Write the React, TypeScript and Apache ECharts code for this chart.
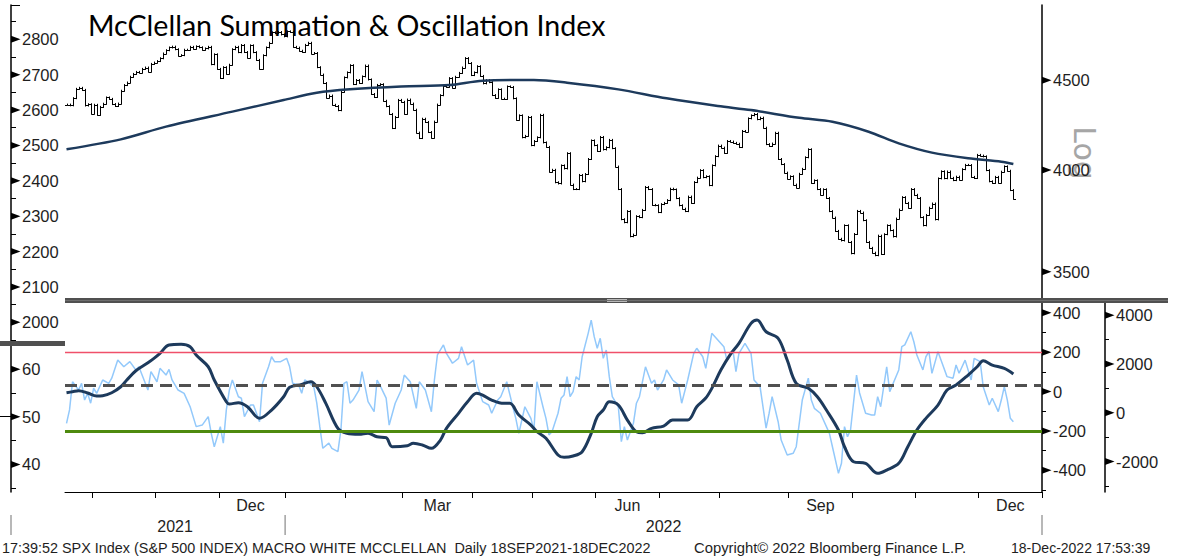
import React, { useEffect, useRef } from 'react';
import * as echarts from 'echarts';

// ---------- categories (trading days) ----------
const START_DAY = '2021-09-20';
const END_DAY = '2022-12-30';
const HOLIDAYS = ['2021-11-25', '2021-12-24', '2022-01-17', '2022-02-21', '2022-04-15', '2022-05-30', '2022-06-20', '2022-07-04', '2022-09-05', '2022-11-24', '2022-12-26'];

// ---------- SPX daily closes (Sep 20 2021 .. Dec 16 2022) ----------
const spxClose = [
  4358, 4354, 4395, 4449, 4455, 4443, 4353, 4360, 4307,
  4357, 4300, 4345, 4363, 4399, 4391, 4361, 4350, 4364, 4438, 4471, 4486, 4520, 4537, 4549, 4545, 4567, 4575, 4551, 4597, 4605,
  4614, 4631, 4660, 4680, 4697, 4702, 4686, 4647, 4650, 4683, 4683, 4701, 4689, 4704, 4698, 4683, 4691, 4701, 4595, 4655, 4567,
  4513, 4577, 4538, 4592, 4686, 4701, 4668, 4712, 4669, 4635, 4710, 4668, 4621, 4568, 4649, 4697, 4726, 4791, 4786, 4793, 4778, 4766,
  4797, 4794, 4701, 4696, 4677, 4670, 4713, 4726, 4660, 4663, 4577, 4533, 4483, 4398, 4410, 4357, 4350, 4326, 4432, 4516,
  4546, 4589, 4477, 4501, 4484, 4522, 4587, 4504, 4419, 4402, 4472, 4476, 4380, 4349, 4305, 4226, 4288, 4385, 4374,
  4306, 4387, 4364, 4329, 4201, 4171, 4278, 4260, 4204, 4173, 4262, 4358, 4412, 4463, 4461, 4512, 4456, 4520, 4543, 4575, 4632, 4602, 4530,
  4546, 4583, 4525, 4481, 4500, 4488, 4413, 4397, 4446, 4392, 4391, 4463, 4460, 4394, 4272, 4297, 4175, 4183, 4288, 4132,
  4155, 4175, 4300, 4147, 4123, 3991, 4001, 3936, 3930, 4024, 4008, 4089, 3924, 3901, 3901, 3974, 3941, 3979, 4058, 4158, 4132,
  4101, 4177, 4109, 4121, 4161, 4116, 4018, 3901, 3750, 3735, 3790, 3667, 3675, 3765, 3760, 3796, 3912, 3901, 3821, 3819, 3785,
  3825, 3831, 3845, 3903, 3899, 3855, 3819, 3802, 3790, 3863, 3831, 3937, 3960, 3999, 3962, 3967, 3921, 4024, 4073, 4130,
  4119, 4091, 4155, 4152, 4145, 4140, 4122, 4210, 4207, 4280, 4297, 4305, 4275, 4284, 4228, 4138, 4128, 4141, 4200, 4058, 4031, 3986, 3955,
  3967, 3924, 3909, 3980, 4006, 4067, 4110, 3933, 3946, 3901, 3873, 3900, 3856, 3790, 3758, 3693, 3655, 3647, 3720, 3640, 3586,
  3678, 3791, 3783, 3745, 3640, 3612, 3589, 3577, 3670, 3583, 3677, 3720, 3696, 3666, 3753, 3798, 3860, 3831, 3807, 3901, 3872,
  3856, 3760, 3720, 3771, 3807, 3828, 3749, 3956, 3993, 3957, 3992, 3959, 3947, 3965, 3950, 4004, 4027, 4026, 3964, 3958, 4080,
  4076, 4072, 3999, 3941, 3933, 3964, 3934, 3991, 4019, 3996, 3896, 3852,
];

// ---------- 200-day moving average [dayIndex, value] ----------
const ma200 = [
  [0, 4110], [18, 4164], [33, 4234], [55, 4318], [72, 4384], [83, 4426], [94, 4446], [111, 4463], [127, 4471],
  [138, 4497], [155, 4501], [166, 4485], [183, 4446], [199, 4394], [216, 4350], [227, 4327], [243, 4283], [254, 4261],
  [266, 4206], [276, 4142], [287, 4092], [299, 4062], [310, 4044], [314, 4032],
];

// ---------- McClellan oscillator [dayIndex, value] ----------
const oscillator = [
  [0, -161], [1, -93], [2, 50], [4, 8], [5, 42], [6, -43], [7, -9], [8, -59], [9, 17], [10, -9], [12, 59], [14, 42], [15, 68],
  [17, 160], [19, 126], [21, 152], [23, 110], [24, 126], [27, 8], [28, 101], [30, 50], [31, 118], [33, 84], [34, 113], [35, 59],
  [37, 8], [39, -9], [41, -77], [43, -178], [45, -170], [47, -127], [48, -212], [49, -280], [51, -178], [52, -262], [53, -93],
  [54, 8], [55, 59], [57, -26], [58, -34], [59, -127], [61, -68], [62, -68], [63, -110], [64, -153], [65, 42], [67, 126],
  [68, 177], [69, 152], [71, 152], [73, 169], [74, 126], [75, 42], [77, 34], [78, -9], [79, 59], [80, 50], [82, 25], [83, -59],
  [84, -178], [85, -288], [87, -262], [88, -288], [90, -305], [91, -195], [92, 42], [93, 50], [94, -59], [95, -43], [97, 8],
  [98, 101], [100, -51], [102, -102], [103, 59], [104, 30], [106, -33], [107, -170], [109, -59], [111, 8], [112, 84], [114, 50],
  [116, -85], [117, 50], [119, 8], [121, -102], [122, 59], [123, 186], [125, 237], [126, 194], [128, 144], [130, 169], [131, 228],
  [133, 135], [135, 160], [136, 42], [138, -51], [140, -68], [141, -110], [143, -43], [144, -26], [146, 50], [148, -77],
  [149, -136], [150, -212], [152, -77], [154, -136], [155, -195], [156, 50], [158, -77], [159, -136], [160, -220], [161, -204],
  [163, -110], [164, -34], [165, -17], [166, 76], [167, -26], [168, 0], [169, 76], [170, 59], [171, 177], [173, 296], [174, 363],
  [175, 279], [176, 220], [177, 271], [178, 169], [179, 211], [180, 76], [181, -26], [183, -77], [184, -254], [185, -178],
  [186, -246], [188, -161], [189, -59], [190, -26], [192, 126], [194, 42], [195, 59], [196, 8], [198, 59], [199, 110], [201, 59],
  [203, 34], [204, -59], [206, 59], [208, 194], [209, 220], [211, 177], [212, 118], [214, 296], [216, 262], [218, 228], [219, 160],
  [221, 211], [222, 101], [223, 194], [225, 245], [227, 194], [228, 59], [230, 25], [232, -186], [233, -110], [234, -26],
  [236, -153], [237, -246], [239, -322], [241, -313], [242, -280], [243, -161], [244, -43], [246, 68], [247, -43], [248, -85],
  [250, -110], [252, -178], [253, -212], [254, -280], [256, -415], [257, -364], [258, -178], [259, -229], [260, -195], [262, 84],
  [263, -7], [265, -110], [267, -119], [268, -119], [269, -26], [270, -77], [272, 126], [273, 0], [276, 110], [277, 228],
  [278, 237], [280, 304], [281, 253], [282, 186], [284, 110], [285, 177], [286, 203], [287, 93], [289, 203], [290, 160], [292, 76],
  [294, 68], [295, 135], [296, 93], [298, 160], [300, 59], [301, 169], [303, 152], [304, 25], [306, -68], [307, -34], [309, -102],
  [310, -43], [311, 25], [312, -43], [313, -136], [314, -153],
];

// ---------- McClellan summation index [dayIndex, value] ----------
const summation = [
  [0, 820], [2, 861], [4, 902], [7, 808], [10, 685], [12, 697], [15, 820], [18, 1066], [20, 1341], [23, 1722], [27, 2050],
  [29, 2230], [31, 2435], [34, 2776], [38, 2804], [41, 2706], [43, 2366], [47, 1886], [49, 1341], [53, 451], [54, 357], [57, 410],
  [60, 246], [64, -230], [68, 111], [72, 656], [74, 1041], [78, 1164], [81, 1271], [83, 1066], [86, 385], [90, -640], [93, -845],
  [97, -886], [100, -845], [103, -984], [106, -1025], [108, -1394], [113, -1354], [115, -1255], [118, -1324], [121, -1460],
  [124, -1119], [126, -640], [130, -25], [133, 451], [136, 795], [138, 726], [141, 521], [145, 385], [147, 385], [150, -94],
  [154, -504], [156, -779], [159, -1050], [163, -1734], [165, -1829], [168, -1775], [171, -1599], [174, -845], [176, -164],
  [178, 111], [180, 451], [183, 316], [186, -299], [189, -779], [191, -820], [194, -640], [198, -545], [201, -299], [206, -299],
  [209, 246], [212, 603], [214, 1000], [217, 1751], [220, 2366], [223, 2845], [227, 3665], [229, 3801], [232, 3321], [236, 3050],
  [239, 2161], [242, 1205], [246, 1000], [249, 656], [252, 111], [256, -709], [258, -1394], [261, -2009], [265, -2075],
  [269, -2485], [272, -2349], [276, -2075], [279, -1394], [282, -709], [285, -230], [289, 316], [292, 931], [295, 1136],
  [299, 1546], [302, 1886], [304, 2132], [307, 1956], [311, 1820], [314, 1587],
];

// ---------- reference levels & tick labels ----------
const oscLevels = { upper: 200, middle: 30, lower: -200 };
const spxTicks = [3500, 4000, 4500];
const oscTicks = [-400, -200, 0, 200, 400];
const oscMinor = [-500, -300, -100, 100, 300];
const sumTicks = [-2000, 0, 2000, 4000];
const sumMinor = [-3000, -1000, 1000, 3000];
const leftTopTicks = [2000, 2100, 2200, 2300, 2400, 2500, 2600, 2700, 2800];
const leftTopMinor = [1950, 2050, 2150, 2250, 2350, 2450, 2550, 2650, 2750, 2850];
const leftBotTicks = [40, 50, 60];
const leftBotMinor = [35, 45, 55];
const MONTH_LABELS: Record<number, string> = { 12: 'Dec', 3: 'Mar', 6: 'Jun', 9: 'Sep' };

const TITLE = 'McClellan Summation & Oscillation Index';
const FOOT_LEFT = '17:39:52 SPX Index (S&P 500 INDEX) MACRO WHITE MCCLELLAN  Daily 18SEP2021-18DEC2022';
const FOOT_MID = 'Copyright\u00A9 2022 Bloomberg Finance L.P.';
const FOOT_RIGHT = '18-Dec-2022 17:53:39';

function buildDays(): string[] {
  const out: string[] = [];
  const [sy, sm, sd] = START_DAY.split('-').map(Number);
  const [ey, em, ed] = END_DAY.split('-').map(Number);
  let t = Date.UTC(sy, sm - 1, sd);
  const end = Date.UTC(ey, em - 1, ed);
  while (t <= end) {
    const d = new Date(t);
    const dow = d.getUTCDay();
    const s = d.toISOString().slice(0, 10);
    if (dow !== 0 && dow !== 6 && HOLIDAYS.indexOf(s) < 0) out.push(s);
    t += 86400000;
  }
  return out;
}

const AX_FONT = '"Liberation Sans", Arial, sans-serif';
const NAVY = '#1d3a5c';
const LBL_COLOR = '#1e1e1e';
const SEP_COLOR = '#a0a0a0';

function baseGraphics(): any[] {
  return [
    { type: 'text', x: 88, y: 25, z: 10, style: { text: TITLE, fontSize: 28.6, fontFamily: 'Lato', fill: '#000', align: 'left', verticalAlign: 'middle' } },
    { type: 'text', x: 1084, y: 153, rotation: -Math.PI / 2, z: 0, style: { text: 'Log', fontSize: 30, fontFamily: 'DejaVu Sans', fill: '#a6a6a6', align: 'center', verticalAlign: 'middle' } },
    { type: 'rect', shape: { x: 65, y: 298, width: 1103, height: 5 }, z: 10, style: { fill: '#505050' } },
    { type: 'line', shape: { x1: 65, y1: 300.5, x2: 1168, y2: 300.5 }, z: 11, style: { stroke: '#6e6e6e', lineWidth: 1 } },
    { type: 'rect', shape: { x: 0, y: 341, width: 65, height: 5 }, z: 10, style: { fill: '#505050' } },
    { type: 'line', shape: { x1: 607, y1: 299.5, x2: 627, y2: 299.5 }, z: 12, style: { stroke: '#b8b8b8', lineWidth: 1 } },
    { type: 'line', shape: { x1: 607, y1: 301.5, x2: 627, y2: 301.5 }, z: 12, style: { stroke: '#b8b8b8', lineWidth: 1 } },
    { type: 'line', shape: { x1: 0, y1: 416.5, x2: 11, y2: 416.5 }, style: { stroke: '#000', lineWidth: 1 } },
    { type: 'line', shape: { x1: 11, y1: 5.5, x2: 20, y2: 5.5 }, style: { stroke: '#000', lineWidth: 1 } },
    { type: 'line', shape: { x1: 11, y1: 515, x2: 11, y2: 535 }, style: { stroke: SEP_COLOR, lineWidth: 1.5 } },
    { type: 'line', shape: { x1: 1042, y1: 515, x2: 1042, y2: 535 }, style: { stroke: SEP_COLOR, lineWidth: 1.5 } },
    { type: 'text', x: 2, y: 548, style: { text: FOOT_LEFT, fontSize: 14.4, fontFamily: AX_FONT, fill: LBL_COLOR, align: 'left', verticalAlign: 'middle' } },
    { type: 'text', x: 694, y: 548, style: { text: FOOT_MID, fontSize: 14.8, fontFamily: AX_FONT, fill: LBL_COLOR, align: 'left', verticalAlign: 'middle' } },
    { type: 'text', x: 1011, y: 548, style: { text: FOOT_RIGHT, fontSize: 14, fontFamily: AX_FONT, fill: LBL_COLOR, align: 'left', verticalAlign: 'middle' } },
  ];
}

const DAYS = buildDays();
const YEAR_STARTS: number[] = [];
DAYS.forEach((d, i) => { if (i > 0 && d.slice(0, 4) !== DAYS[i - 1].slice(0, 4)) YEAR_STARTS.push(i); });

function buildOption() {
  const days = DAYS;
  const monthStarts = new Set<number>();
  const groups: { y: number; m: number; first: number; last: number }[] = [];
  const yearGroups: { y: number; first: number; last: number }[] = [];
  days.forEach((d, i) => {
    const y = +d.slice(0, 4);
    const m = +d.slice(5, 7);
    const g = groups[groups.length - 1];
    if (!g || g.m !== m || g.y !== y) {
      groups.push({ y, m, first: i, last: i });
      if (i > 0) monthStarts.add(i);
    } else g.last = i;
    const yg = yearGroups[yearGroups.length - 1];
    if (!yg || yg.y !== y) yearGroups.push({ y, first: i, last: i });
    else yg.last = i;
  });
  const monthLabels = new Map<number, string>();
  groups.forEach((g) => {
    if (MONTH_LABELS[g.m] && g.last - g.first >= 14) monthLabels.set(Math.floor((g.first + g.last) / 2), MONTH_LABELS[g.m]);
  });
  const yearLabels = new Map<number, string>();
  yearGroups.forEach((g) => {
    yearLabels.set(Math.floor((g.first + g.last) / 2), String(g.y));
  });

  const spxBars = spxClose.map((c, i) => {
    const o = i === 0 ? c : spxClose[i - 1];
    return [i, o, c, Math.min(o, c), Math.max(o, c)];
  });

  const fmt = (v: number) => String(Math.round(v));
  const lbl = { formatter: fmt, margin: 11, fontSize: 16.5, color: LBL_COLOR, fontFamily: AX_FONT };
  const axisLineStyle = { show: true, onZero: false, lineStyle: { color: '#000', width: 1.5 } };

  const mkY = (extra: any) => ({
    splitLine: { show: false },
    axisLine: axisLineStyle,
    ...extra,
  });

  return {
    animation: false,
    backgroundColor: '#fff',
    grid: [
      { left: 65, top: 5, width: 977, height: 293, containLabel: false, outerBoundsMode: 'none' },
      { left: 65, top: 303, width: 977, height: 189, containLabel: false, outerBoundsMode: 'none' },
      { left: 11, top: 5, width: 54, height: 338, containLabel: false, outerBoundsMode: 'none' },
      { left: 11, top: 345, width: 54, height: 147, containLabel: false, outerBoundsMode: 'none' },
    ],
    xAxis: [
      { type: 'category', gridIndex: 0, data: days, show: false, boundaryGap: true },
      {
        type: 'category', gridIndex: 1, data: days, boundaryGap: true, position: 'bottom',
        axisLine: { show: true, onZero: false, lineStyle: { color: '#000', width: 1 } },
        axisTick: { show: true, interval: (i: number) => monthStarts.has(i), length: 6, lineStyle: { color: '#000', width: 1 } },
        axisLabel: {
          interval: (i: number) => monthLabels.has(i),
          formatter: (_v: string, i: number) => monthLabels.get(i) || '',
          margin: 5, fontSize: 16, color: LBL_COLOR, fontFamily: AX_FONT,
        },
      },
      {
        type: 'category', gridIndex: 1, data: days, boundaryGap: true, position: 'bottom', offset: 23,
        axisLine: { show: false, onZero: false },
        axisTick: { show: false },
        axisLabel: {
          interval: (i: number) => yearLabels.has(i),
          formatter: (_v: string, i: number) => yearLabels.get(i) || '',
          margin: 3, fontSize: 16, color: LBL_COLOR, fontFamily: AX_FONT,
        },
      },
      { type: 'value', gridIndex: 2, show: false, min: 0, max: 1 },
      { type: 'value', gridIndex: 3, show: false, min: 0, max: 1 },
    ],
    yAxis: [
      mkY({
        type: 'log', gridIndex: 0, position: 'right', min: 3382, max: 4966,
        axisTick: { show: false },
        axisLabel: { customValues: spxTicks, ...lbl },
      }),
      mkY({
        type: 'value', gridIndex: 1, position: 'right', min: -510, max: 450,
        axisTick: { show: true, customValues: oscMinor, length: 4, lineStyle: { color: '#000' } },
        axisLabel: { customValues: oscTicks, ...lbl },
      }),
      mkY({
        type: 'value', gridIndex: 1, position: 'right', offset: 63, min: -3250, max: 4500,
        axisTick: { show: true, customValues: sumMinor, length: 4, lineStyle: { color: '#000' } },
        axisLabel: { customValues: sumTicks, ...lbl },
      }),
      mkY({
        type: 'value', gridIndex: 2, position: 'left', min: 1941.5, max: 2897,
        axisTick: { show: true, inside: true, customValues: leftTopMinor, length: 5, lineStyle: { color: '#000' } },
        axisLabel: { inside: true, customValues: leftTopTicks, ...lbl },
      }),
      mkY({
        type: 'value', gridIndex: 3, position: 'left', min: 34.2, max: 65.1,
        axisTick: { show: true, inside: true, customValues: leftBotMinor, length: 5, lineStyle: { color: '#000' } },
        axisLabel: { inside: true, customValues: leftBotTicks, ...lbl },
      }),
    ],
    series: [
      {
        name: 'SPX', type: 'custom', xAxisIndex: 0, yAxisIndex: 0, data: spxBars,
        encode: { x: 0, y: [1, 2, 3, 4] }, silent: true, clip: true,
        renderItem: (_p: any, api: any) => {
          const i = api.value(0);
          const pO = api.coord([i, api.value(1)]);
          const pC = api.coord([i, api.value(2)]);
          const pL = api.coord([i, api.value(3)]);
          const pH = api.coord([i, api.value(4)]);
          const x = Math.round(pO[0]) + 0.5;
          const st = { stroke: '#000', lineWidth: 1 };
          const yo = Math.round(pO[1]) + 0.5;
          const yc = Math.round(pC[1]) + 0.5;
          return {
            type: 'group',
            children: [
              { type: 'line', shape: { x1: x, y1: pH[1] - 1, x2: x, y2: pL[1] + 1 }, style: st },
              { type: 'line', shape: { x1: x - 2.5, y1: yo, x2: x, y2: yo }, style: st },
              { type: 'line', shape: { x1: x, y1: yc, x2: x + 2.5, y2: yc }, style: st },
            ],
          };
        },
      },
      {
        name: 'MA200', type: 'line', xAxisIndex: 0, yAxisIndex: 0, data: ma200, smooth: 0.3,
        showSymbol: false, symbol: 'none', silent: true, lineStyle: { color: NAVY, width: 2.5 },
      },
      {
        name: 'Oscillator', type: 'line', xAxisIndex: 1, yAxisIndex: 1, data: oscillator,
        showSymbol: false, symbol: 'none', silent: true, lineStyle: { color: '#93c9fb', width: 1.5 },
        markLine: {
          silent: true, symbol: 'none', label: { show: false },
          data: [
            { yAxis: oscLevels.upper, lineStyle: { color: '#f0506a', width: 1.3, type: 'solid' } },
            { yAxis: oscLevels.middle, lineStyle: { color: '#505050', width: 3, type: [12, 7] } },
            { yAxis: oscLevels.lower, lineStyle: { color: '#4e8a0e', width: 3, type: 'solid' } },
          ],
        },
      },
      {
        name: 'Summation', type: 'line', xAxisIndex: 1, yAxisIndex: 2, data: summation, smooth: 0.35,
        showSymbol: false, symbol: 'none', silent: true, z: 4, lineStyle: { color: NAVY, width: 3 },
      },
    ],
    graphic: { elements: baseGraphics() },
  };
}

// axis index -> [tick values, x of axis line]
const TRIANGLE_AXES: [number, number[], number][] = [
  [0, spxTicks, 1042],
  [1, oscTicks, 1042],
  [2, sumTicks, 1105],
  [3, leftTopTicks, 11],
  [4, leftBotTicks, 11],
];

export default function App() {
  const ref = useRef<HTMLDivElement>(null);
  useEffect(() => {
    document.body.style.margin = '0';
    const chart = echarts.init(ref.current as HTMLDivElement, null, { renderer: 'svg' });
    chart.setOption(buildOption() as any);
    const extra: any[] = [];
    TRIANGLE_AXES.forEach(([axisIdx, values, ax]) => {
      values.forEach((v) => {
        const y = chart.convertToPixel({ yAxisIndex: axisIdx } as any, v) as unknown as number;
        if (typeof y !== 'number' || isNaN(y)) return;
        extra.push({
          type: 'polygon', z: 12,
          shape: { points: [[ax, y - 3.5], [ax + 9.5, y], [ax, y + 3.5]] },
          style: { fill: '#000' },
        });
      });
    });
    // year separators at the boundary before the first trading day of each new year
    YEAR_STARTS.forEach((idx) => {
      const cur = chart.convertToPixel({ xAxisIndex: 1 } as any, idx) as unknown as number;
      const prev = chart.convertToPixel({ xAxisIndex: 1 } as any, idx - 1) as unknown as number;
      if (typeof cur !== 'number' || typeof prev !== 'number') return;
      const x = (cur + prev) / 2;
      extra.push({ type: 'line', shape: { x1: x, y1: 515, x2: x, y2: 535 }, style: { stroke: SEP_COLOR, lineWidth: 1.5 } });
    });
    chart.setOption({ graphic: { elements: [...baseGraphics(), ...extra] } } as any);
    return () => chart.dispose();
  }, []);
  return <div ref={ref} style={{ width: 1187, height: 559, background: '#fff' }} />;
}
